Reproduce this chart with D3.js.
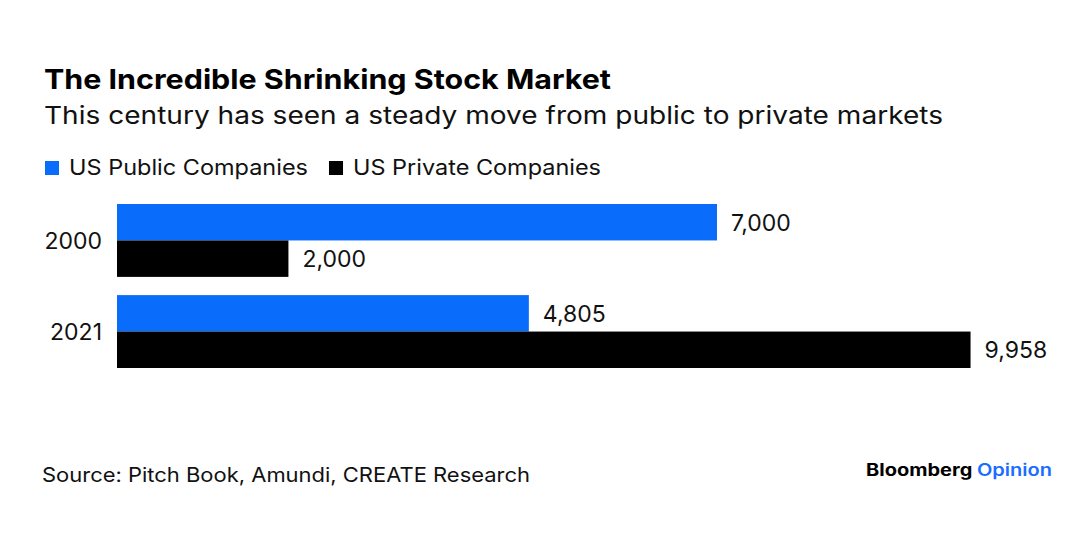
<!DOCTYPE html>
<html><head><meta charset="utf-8">
<script src="https://cdn.jsdelivr.net/npm/d3@7"></script>
<style>body{margin:0;background:#fff;font-family:Inter,"Liberation Sans",Arial,sans-serif}</style>
</head><body>
<script>
const categories = ["2000", "2021"];
const seriesNames = ["US Public Companies", "US Private Companies"];
const publicValues = [7000, 4805];
const privateValues = [2000, 9958];
const colors = ["#0a6cfa", "#000000"];

const W = 1084, H = 536;
const svg = d3.select("body").append("svg").attr("width", W).attr("height", H)
  .style("font-family", "Inter, 'Liberation Sans', Arial, sans-serif");
svg.append("rect").attr("width", W).attr("height", H).attr("fill", "#fff");

function fitText(sel, len) {
  sel.attr("textLength", len).attr("lengthAdjust", "spacingAndGlyphs");
  return sel;
}

fitText(svg.append("text").attr("x", 44).attr("y", 89).attr("font-size", 27.5).attr("font-weight", "bold")
  .attr("fill", "#000").text("The Incredible Shrinking Stock Market"), 567);
fitText(svg.append("text").attr("x", 44).attr("y", 124).attr("font-size", 24.5)
  .attr("fill", "#111").text("This century has seen a steady move from public to private markets"), 899);

// legend
const legendX = [45, 329];
const legendLen = [239, 248];
seriesNames.forEach((n, i) => {
  svg.append("rect").attr("x", legendX[i]).attr("y", 161).attr("width", 14).attr("height", 14).attr("fill", colors[i]);
  fitText(svg.append("text").attr("x", legendX[i] + 24).attr("y", 175).attr("font-size", 21.5).attr("fill", "#111").text(n), legendLen[i]);
});

const x = d3.scaleLinear().domain([0, 7000]).range([117, 717]);
const y = d3.scaleBand().domain(categories).range([204, 368]).paddingInner(0.2).paddingOuter(0);
const ySub = d3.scaleBand().domain([0, 1]).range([0, y.bandwidth()]);

const rows = categories.map((c, i) => ({c, vals: [publicValues[i], privateValues[i]]}));
const fmt = d3.format(",");

const g = svg.append("g");
rows.forEach(r => {
  const gy = y(r.c);
  r.vals.forEach((v, j) => {
    g.append("rect").attr("x", x(0)).attr("y", gy + ySub(j)).attr("width", x(v) - x(0))
      .attr("height", ySub.bandwidth()).attr("fill", colors[j]);
    g.append("text").attr("x", x(v) + 14).attr("y", gy + ySub(j) + ySub.bandwidth() / 2)
      .attr("dy", "0.36em").attr("font-size", 23).attr("fill", "#111").text(fmt(v));
  });
  g.append("text").attr("x", 102).attr("y", gy + y.bandwidth() / 2).attr("dy", "0.36em")
    .attr("text-anchor", "end").attr("font-size", 23).attr("fill", "#111").text(r.c);
});

fitText(svg.append("text").attr("x", 42).attr("y", 482).attr("font-size", 20).attr("fill", "#111")
  .text("Source: Pitch Book, Amundi, CREATE Research"), 488);
const brand = svg.append("text").attr("x", 866).attr("y", 476)
  .attr("font-size", 17).attr("font-weight", "bold");
brand.append("tspan").attr("fill", "#000").text("Bloomberg ");
brand.append("tspan").attr("fill", "#1a6dff").attr("font-weight", "600").text("Opinion");
fitText(brand, 186);
</script>
</body></html>
